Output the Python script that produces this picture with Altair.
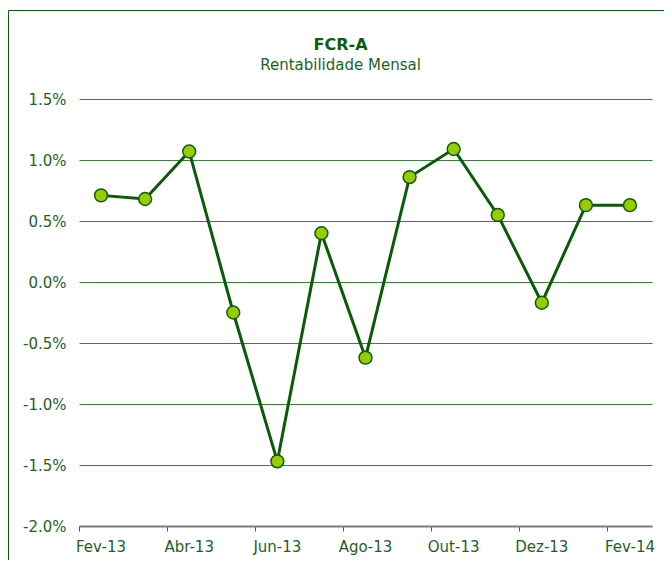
import altair as alt
import pandas as pd

months = ["Fev-13", "Mar-13", "Abr-13", "Mai-13", "Jun-13", "Jul-13", "Ago-13",
          "Set-13", "Out-13", "Nov-13", "Dez-13", "Jan-14", "Fev-14"]
values = [0.71, 0.68, 1.07, -0.25, -1.47, 0.40, -0.62, 0.86, 1.09, 0.55, -0.17, 0.63, 0.63]
x_labels = ["Fev-13", "Abr-13", "Jun-13", "Ago-13", "Out-13", "Dez-13", "Fev-14"]
y_ticks = [-2.0, -1.5, -1.0, -0.5, 0.0, 0.5, 1.0, 1.5]
title_text = "FCR-A"
subtitle_text = "Rentabilidade Mensal"

FONT = "DejaVu Sans"
DARK = "#0b5e0b"
LABEL = "#1f621f"

df = pd.DataFrame({"mes": months, "rent": values})

x_enc = alt.X(
    "mes:O",
    sort=months,
    scale=alt.Scale(type="band", paddingInner=0, paddingOuter=0),
    axis=alt.Axis(
        values=x_labels, bandPosition=0, title=None, labelAngle=0,
        domainColor="#7a7a7a", domainWidth=2, tickColor="#555555", tickSize=5,
        labelPadding=8, labelFont=FONT, labelFontSize=15, labelColor=LABEL,
        grid=False, zindex=1,
    ),
)
y_enc = alt.Y(
    "rent:Q",
    scale=alt.Scale(domain=[-2.0, 1.5], nice=False, zero=False),
    axis=alt.Axis(
        values=y_ticks,
        labelExpr="(datum.value < 0 ? '-' : '') + format(abs(datum.value), '.1f') + '%'",
        domain=False, ticks=False, grid=True, gridColor="#3a7f3a", gridWidth=1,
        labelPadding=13, labelFont=FONT, labelFontSize=15, labelColor=LABEL, title=None,
    ),
)

frame = alt.Chart(alt.Data(values=[{}])).mark_rect(
    fill="transparent", stroke=DARK, strokeWidth=1
).encode(
    x=alt.value(-70.5), x2=alt.value(700), y=alt.value(-88.5), y2=alt.value(600)
)

title = alt.Chart(alt.Data(values=[{"t": title_text}])).mark_text(
    font=FONT, fontSize=16, fontWeight="bold", color=DARK, align="center", baseline="alphabetic"
).encode(text="t:N", x=alt.value(261.5), y=alt.value(-49.5))

subtitle = alt.Chart(alt.Data(values=[{"t": subtitle_text}])).mark_text(
    font=FONT, fontSize=15, color=LABEL, align="center", baseline="alphabetic"
).encode(text="t:N", x=alt.value(261.5), y=alt.value(-29))

base = alt.Chart(df)
line = base.mark_line(color="#0a5a0a", strokeWidth=3).encode(x=x_enc, y=y_enc)
points = base.mark_circle(size=165, color="#99cc00", stroke=DARK, strokeWidth=1.5, opacity=1).encode(
    x=x_enc, y=y_enc
)

chart = alt.layer(frame, title, subtitle, line, points).properties(
    width=573,
    height=427,
    autosize=alt.AutoSizeParams(type="none"),
    padding={"left": 71, "top": 91, "right": 12, "bottom": 34},
).configure_view(strokeWidth=0)

chart.save("out.html", embed_options={"renderer": "svg", "actions": False})
